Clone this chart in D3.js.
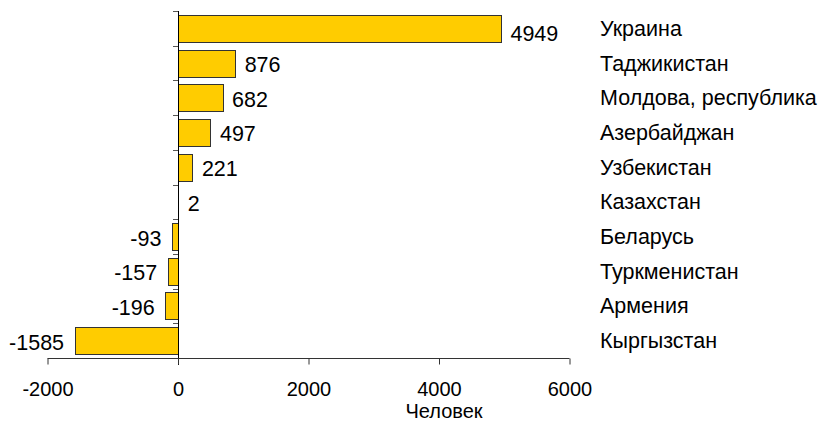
<!DOCTYPE html>
<html><head><meta charset="utf-8">
<script src="https://cdn.jsdelivr.net/npm/d3@7"></script>
<style>body{margin:0;background:#fff}svg{display:block}text{font-family:"Liberation Sans",Arial,sans-serif;fill:#000}</style>
</head><body><svg id="c" width="820" height="422"></svg>
<script>
const categories = ["Украина","Таджикистан","Молдова, республика","Азербайджан","Узбекистан","Казахстан","Беларусь","Туркменистан","Армения","Кыргызстан"];
const values = [4949,876,682,497,221,2,-93,-157,-196,-1585];
const xTicks = [-2000,0,2000,4000,6000];
const xTitle = "Человек";

const svg = d3.select("#c");
const x = d3.scaleLinear().domain([-2000,6000]).range([47.5,569.5]);
const y = d3.scaleBand().domain(categories).range([11,358]).paddingInner(0.22).paddingOuter(0.11);
const x0 = x(0);

// bars
svg.append("g").selectAll("rect").data(values).join("rect")
  .attr("x",(d)=>Math.round(Math.min(x(d),x0))+0.5)
  .attr("y",(d,i)=>Math.round(y(categories[i]))+0.5)
  .attr("width",(d)=>Math.max(0,Math.round(Math.abs(x(d)-x0))))
  .attr("height",Math.round(y.bandwidth()))
  .attr("fill",(d)=>Math.abs(x(d)-x0)<1?"none":"#FFCC00")
  .attr("stroke",(d)=>Math.abs(x(d)-x0)<1?"none":"#333")
  .attr("stroke-width",1);

// value labels
svg.append("g").selectAll("text").data(values).join("text")
  .attr("x",(d)=>d>=0?x(d)+9.5:x(d)-10.5)
  .attr("y",(d,i)=>y(categories[i])+y.bandwidth()/2+(i===0?5:1.5))
  .attr("dy","0.35em")
  .attr("text-anchor",(d)=>d>=0?"start":"end")
  .style("font-size","21.5px")
  .text((d)=>d);

// category labels
svg.append("g").selectAll("text").data(categories).join("text")
  .attr("x",600)
  .attr("y",(d)=>y(d)+y.bandwidth()/2)
  .attr("dy","0.35em")
  .style("font-size","21.5px")
  .text((d)=>d);

// vertical axis at zero
const bounds = d3.range(categories.length).map(i=>11+i*(347/categories.length));
svg.append("line").attr("x1",x0+0.5).attr("x2",x0+0.5).attr("y1",11).attr("y2",365).attr("stroke","#000");
svg.append("g").selectAll("line").data(bounds).join("line")
  .attr("x1",x0-5).attr("x2",x0).attr("y1",(d)=>Math.round(d)+0.5).attr("y2",(d)=>Math.round(d)+0.5)
  .attr("stroke","#555");

// bottom axis
const ax = d3.axisBottom(x).tickValues(xTicks).tickSize(6).tickPadding(17).tickFormat((d)=>String(d));
const g = svg.append("g").attr("transform","translate(0,358.5)").call(ax);
g.select(".domain").attr("stroke","#333").attr("d",`M${x(-2000)},0H${x(6000)}`);
g.selectAll(".tick line").attr("stroke","#333");
g.selectAll(".tick text").style("font-size","20px").style("font-family","'Liberation Sans',Arial,sans-serif").attr("fill","#000");

svg.append("text").attr("x",444).attr("y",418).attr("text-anchor","middle").style("font-size","20px").text(xTitle);
</script></body></html>
